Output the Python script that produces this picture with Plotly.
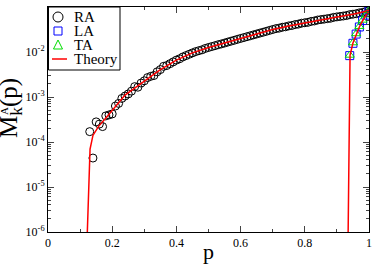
import plotly.graph_objects as go

# ---------------- data ----------------
ra_p = [0.13, 0.14, 0.15, 0.16, 0.17, 0.18, 0.19, 0.20, 0.21, 0.22, 0.23, 0.24, 0.25,
        0.26, 0.27, 0.28, 0.29, 0.30, 0.31, 0.32, 0.33, 0.34, 0.35,
        0.36, 0.37, 0.38, 0.39, 0.40, 0.41, 0.42, 0.43, 0.44, 0.45,
        0.46, 0.47, 0.48, 0.49, 0.50, 0.51, 0.52, 0.53, 0.54, 0.55,
        0.56, 0.57, 0.58, 0.59, 0.60, 0.61, 0.62, 0.63, 0.64, 0.65,
        0.66, 0.67, 0.68, 0.69, 0.70, 0.71, 0.72, 0.73, 0.74, 0.75,
        0.76, 0.77, 0.78, 0.79, 0.80, 0.81, 0.82, 0.83, 0.84, 0.85,
        0.86, 0.87, 0.88, 0.89, 0.90, 0.91, 0.92, 0.93, 0.94, 0.95,
        0.96, 0.97, 0.98, 0.99, 1.00]
ra_m = [1.7e-4, 4.4e-5, 2.8e-4, 2.5e-4, 2.2e-4, 3.8e-4, 4.0e-4, 4.2e-4, 6.3e-4, 7.2e-4, 9.3e-4, 1.05e-3, 1.17e-3,
        1.35e-3, 1.70e-3, 1.65e-3, 2.04e-3, 2.29e-3, 2.70e-3, 2.88e-3, 3.00e-3, 3.63e-3, 4.07e-3,
        4.80e-3, 5.01e-3, 5.50e-3, 6.03e-3, 6.61e-3, 7.08e-3, 7.76e-3, 8.32e-3, 8.91e-3, 9.55e-3,
        1.02e-2, 1.07e-2, 1.12e-2, 1.20e-2, 1.26e-2, 1.32e-2, 1.38e-2, 1.45e-2, 1.51e-2, 1.58e-2,
        1.66e-2, 1.74e-2, 1.82e-2, 1.91e-2, 2.00e-2, 2.09e-2, 2.19e-2, 2.29e-2, 2.40e-2, 2.51e-2,
        2.63e-2, 2.75e-2, 2.88e-2, 3.02e-2, 3.16e-2, 3.31e-2, 3.39e-2, 3.55e-2, 3.63e-2, 3.80e-2,
        3.89e-2, 4.07e-2, 4.17e-2, 4.37e-2, 4.47e-2, 4.57e-2, 4.79e-2, 4.90e-2, 5.13e-2, 5.25e-2,
        5.37e-2, 5.50e-2, 5.62e-2, 5.89e-2, 6.03e-2, 6.17e-2, 6.31e-2, 6.46e-2, 6.76e-2, 6.92e-2,
        7.08e-2, 7.41e-2, 7.59e-2, 7.94e-2, 8.32e-2]

la_p = [0.94, 0.95, 0.96, 0.97, 0.98, 0.99, 1.00]
la_m = [8.3e-3, 1.56e-2, 2.5e-2, 3.6e-2, 5.0e-2, 6.6e-2, 8.2e-2]

ta_p = [0.94, 0.95, 0.96, 0.97, 0.98, 0.99, 1.00]
ta_m = [8.5e-3, 1.6e-2, 2.55e-2, 3.7e-2, 5.1e-2, 6.7e-2, 8.3e-2]

th_left_p = [0.1225, 0.1266, 0.131, 0.14, 0.157, 0.183, 0.214, 0.24, 0.27, 0.30, 0.35,
             0.40, 0.45, 0.50, 0.55, 0.60, 0.65, 0.70, 0.75, 0.80, 0.85, 0.90, 0.95, 1.00]
th_left_m = [1e-6, 1e-5, 7e-5, 1.4e-4, 2.2e-4, 3.6e-4, 6.6e-4, 1.1e-3, 1.58e-3, 2.29e-3, 4.07e-3,
             6.61e-3, 9.55e-3, 1.26e-2, 1.58e-2, 2.0e-2, 2.51e-2, 3.16e-2, 3.8e-2, 4.47e-2, 5.25e-2,
             6.03e-2, 6.92e-2, 8.32e-2]

th_right_p = [0.935, 0.938, 0.9395, 0.941, 0.95, 0.96, 0.97, 0.98, 0.99, 1.00]
th_right_m = [1e-6, 1e-4, 5e-3, 8.5e-3, 1.58e-2, 2.5e-2, 3.6e-2, 4.95e-2, 6.5e-2, 8.3e-2]

series_names = ["RA", "LA", "TA", "Theory"]

y_tick_vals = [1e-6, 1e-5, 1e-4, 1e-3, 1e-2, 1e-1]
y_tick_text = ["10<sup>-6</sup>", "10<sup>-5</sup>", "10<sup>-4</sup>",
               "10<sup>-3</sup>", "10<sup>-2</sup>", "10<sup>-1</sup>"]

# ---------------- figure ----------------
SERIF = "Liberation Serif"
W, H = 374, 264
L, R, T, B = 48, 5, 7, 32
GREEN = "#00dd00"

fig = go.Figure()
fig.add_trace(go.Scatter(x=ra_p, y=ra_m, mode="markers", name=series_names[0], showlegend=False,
                         marker=dict(symbol="circle-open", size=8, color="black",
                                     line=dict(width=1, color="black"))))
fig.add_trace(go.Scatter(x=la_p, y=la_m, mode="markers", name=series_names[1], showlegend=False,
                         marker=dict(symbol="square-open", size=8, color="blue",
                                     line=dict(width=1, color="blue"))))
fig.add_trace(go.Scatter(x=ta_p, y=ta_m, mode="markers", name=series_names[2], showlegend=False,
                         marker=dict(symbol="triangle-up-open", size=8, color=GREEN,
                                     line=dict(width=1, color=GREEN))))
fig.add_trace(go.Scatter(x=th_left_p, y=th_left_m, mode="lines", name=series_names[3], showlegend=False,
                         line=dict(color="red", width=1.5)))
fig.add_trace(go.Scatter(x=th_right_p, y=th_right_m, mode="lines", name=series_names[3],
                         showlegend=False, line=dict(color="red", width=1.5)))

minor_vals = []
for e in range(-6, -1):
    for k in range(2, 10):
        minor_vals.append(k * 10 ** e)

fig.update_xaxes(range=[0, 1], dtick=0.2, tick0=0, ticks="inside", ticklen=6,
                 showline=True, linecolor="black", linewidth=1, mirror="ticks",
                 showgrid=False, zeroline=False,
                 tickfont=dict(family=SERIF, size=12, color="black"),
                 minor=dict(dtick=0.1, ticks="inside", ticklen=3, showgrid=False),
                 title=dict(text="p", font=dict(family=SERIF, size=22, color="black"), standoff=0))
fig.update_yaxes(type="log", range=[-6, -1], tickmode="array",
                 tickvals=y_tick_vals, ticktext=y_tick_text,
                 ticks="inside", ticklen=6,
                 showline=True, linecolor="black", linewidth=1, mirror="ticks",
                 showgrid=False, zeroline=False,
                 tickfont=dict(family=SERIF, size=12, color="black"),
                 minor=dict(tickmode="array", tickvals=minor_vals, ticks="inside",
                            ticklen=3, showgrid=False))

def px(xp):
    return (xp - L) / (W - L - R)

def py(yp):
    return (H - B - yp) / (H - T - B)

# y-axis title (rotated), superscript A stacked above subscript k
fig.add_annotation(text="M<sub>k</sub>(p)", x=px(10), y=py(108), xref="paper", yref="paper",
                   xanchor="center", yanchor="middle", showarrow=False, textangle=-90,
                   font=dict(family=SERIF, size=25, color="black"))
fig.add_annotation(text="A", x=px(4), y=py(111), xref="paper", yref="paper",
                   xanchor="center", yanchor="middle", showarrow=False, textangle=-90,
                   font=dict(family=SERIF, size=11, color="black"))

# legend box drawn by hand (tight spacing as in the original)
fig.add_shape(type="rect", xref="paper", yref="paper", x0=px(48.5), x1=px(120), y0=py(70), y1=py(7),
              line=dict(color="black", width=1), fillcolor="white", layer="above")
rows_y = [17, 31, 45, 59]
sx = 58
fig.add_shape(type="circle", xref="paper", yref="paper", x0=px(sx - 5), x1=px(sx + 5),
              y0=py(rows_y[0] + 5), y1=py(rows_y[0] - 5), line=dict(color="black", width=1), layer="above")
fig.add_shape(type="rect", xref="paper", yref="paper", x0=px(sx - 4), x1=px(sx + 4),
              y0=py(rows_y[1] + 4), y1=py(rows_y[1] - 4), line=dict(color="blue", width=1), layer="above")
tri = "M {:.4f},{:.4f} L {:.4f},{:.4f} L {:.4f},{:.4f} Z".format(
    px(sx - 4.5), py(rows_y[2] + 4), px(sx + 4.5), py(rows_y[2] + 4), px(sx), py(rows_y[2] - 5))
fig.add_shape(type="path", xref="paper", yref="paper", path=tri,
              line=dict(color=GREEN, width=1), layer="above")
fig.add_shape(type="line", xref="paper", yref="paper", x0=px(52), x1=px(67),
              y0=py(rows_y[3]), y1=py(rows_y[3]), line=dict(color="red", width=1.5), layer="above")
for name, ry in zip(series_names, rows_y):
    fig.add_annotation(text=name, x=px(72), y=py(ry), xref="paper", yref="paper",
                       xanchor="left", yanchor="middle", showarrow=False,
                       font=dict(family=SERIF, size=15, color="black"))

fig.update_layout(width=W, height=H, margin=dict(l=L, r=R, t=T, b=B, autoexpand=False),
                  plot_bgcolor="white", paper_bgcolor="white", showlegend=False)

fig.write_html("out.html", config={"displayModeBar": False},
               post_script="document.body.style.margin='0';document.body.style.padding='0';")
